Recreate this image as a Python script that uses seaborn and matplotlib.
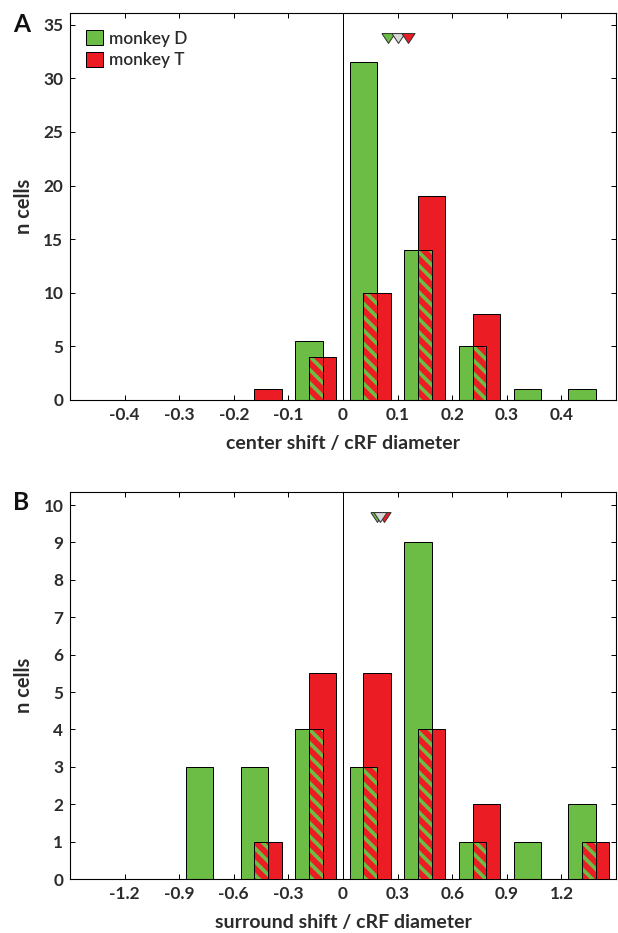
import numpy as np
import pandas as pd
import matplotlib
matplotlib.use("Agg")
import matplotlib.pyplot as plt
from matplotlib.patches import Patch
import seaborn as sns

# ---------------- data ----------------
# Panel A: center shift / cRF diameter (bin width 0.1)
a_green_bins = [-0.05, 0.05, 0.15, 0.25, 0.35, 0.45]
a_green_vals = [5.5, 31.5, 14, 5, 1, 1]
a_red_bins = [-0.15, -0.05, 0.05, 0.15, 0.25]
a_red_vals = [1, 4, 10, 19, 8]
a_marker_x = [0.082, 0.100, 0.119]          # monkey D mean, overall mean, monkey T mean
a_marker_y = [33.8, 33.8, 33.8]
a_xticks = [-0.4, -0.3, -0.2, -0.1, 0, 0.1, 0.2, 0.3, 0.4]
a_xticklabels = ["-0.4", "-0.3", "-0.2", "-0.1", "0", "0.1", "0.2", "0.3", "0.4"]
a_yticks = [0, 5, 10, 15, 20, 25, 30, 35]

# Panel B: surround shift / cRF diameter (bin width 0.3)
b_green_bins = [-0.75, -0.45, -0.15, 0.15, 0.45, 0.75, 1.05, 1.35]
b_green_vals = [3, 3, 4, 3, 9, 1, 1, 2]
b_red_bins = [-0.45, -0.15, 0.15, 0.45, 0.75, 1.35]
b_red_vals = [1, 5.5, 5.5, 4, 2, 1]
b_marker_x = [0.186, 0.225, 0.205]          # monkey D mean, monkey T mean, overall mean
b_marker_y = [9.69, 9.69, 9.69]
b_xticks = [-1.2, -0.9, -0.6, -0.3, 0, 0.3, 0.6, 0.9, 1.2]
b_xticklabels = ["-1.2", "-0.9", "-0.6", "-0.3", "0", "0.3", "0.6", "0.9", "1.2"]
b_yticks = list(range(0, 11))

legend_labels = ["monkey D", "monkey T"]

# ---------------- style ----------------
GREEN = "#6cbd45"
RED = "#ec1c24"
GRAY = "#d8d8d8"
TXT = "#2b2b2b"
DPI = 80

sns.set_style("ticks")
plt.rcParams["font.family"] = ["Lato", "DejaVu Sans"]
plt.rcParams["hatch.linewidth"] = 5.2
plt.rcParams["axes.linewidth"] = 1.0

fig = plt.figure(figsize=(618 / DPI, 933 / DPI), dpi=DPI)
W, H = 618, 933
axA = fig.add_axes([70 / W, 1 - 400 / H, 546 / W, 387 / H])
axB = fig.add_axes([70 / W, 1 - 879 / H, 546 / W, 387 / H])

tri = [(-1, 0.75), (1, 0.75), (0, -0.75), (-1, 0.75)]


def panel(ax, bw, gbins, gvals, rbins, rvals, mx, my, mcolors, xlim, ylim,
          xticks, xticklabels, yticks, xlabel):
    off = bw / 8.0
    dg = pd.DataFrame({"x": np.array(gbins) - off, "y": gvals})
    dr = pd.DataFrame({"x": np.array(rbins) + off, "y": rvals})
    common = sorted(set(gbins) & set(rbins))
    gmap = dict(zip(gbins, gvals))
    rmap = dict(zip(rbins, rvals))
    do = pd.DataFrame({"x": common, "y": [min(gmap[c], rmap[c]) for c in common]})

    sns.barplot(data=dg, x="x", y="y", native_scale=True, width=0.5, color=GREEN,
                saturation=1, edgecolor="black", linewidth=0.9, errorbar=None, ax=ax,
                zorder=2)
    sns.barplot(data=dr, x="x", y="y", native_scale=True, width=0.5, color=RED,
                saturation=1, edgecolor="black", linewidth=0.9, errorbar=None, ax=ax,
                zorder=3)
    # overlap region: green face with red diagonal stripes
    sns.barplot(data=do, x="x", y="y", native_scale=True, width=0.25, color=GREEN,
                saturation=1, edgecolor=RED, linewidth=0, hatch="\\\\", errorbar=None,
                ax=ax, zorder=4)
    sns.barplot(data=do, x="x", y="y", native_scale=True, width=0.25, fill=False,
                edgecolor="black", linewidth=0.9, errorbar=None, ax=ax, zorder=5)

    ax.axvline(0, color="black", lw=0.9, zorder=1)

    for x, y, c, z in zip(mx, my, mcolors, [6, 7, 8]):
        sns.scatterplot(x=[x], y=[y], marker=tri, s=140, color=c, edgecolor="#333333",
                        linewidth=0.9, ax=ax, zorder=z, legend=False)

    ax.set_xlim(*xlim)
    ax.set_ylim(*ylim)
    ax.set_xticks(xticks)
    ax.set_xticklabels(xticklabels)
    ax.set_yticks(yticks)
    ax.tick_params(direction="in", length=4.5, width=0.9, top=True, right=True,
                   labelsize=15.5, colors="black", labelcolor=TXT, pad=6)
    for lab in ax.get_xticklabels() + ax.get_yticklabels():
        lab.set_fontweight("bold")
    for s in ax.spines.values():
        s.set_visible(True)
        s.set_color("black")
    ax.set_xlabel(xlabel, fontsize=17.5, fontweight="bold", color=TXT)
    ax.set_ylabel("n cells", fontsize=18, fontweight="bold", color=TXT)
    ax.xaxis.set_label_coords(0.5, -0.09)
    ax.yaxis.set_label_coords(-0.066, 0.5)
    ax.set_facecolor("white")


panel(axA, 0.1, a_green_bins, a_green_vals, a_red_bins, a_red_vals,
      a_marker_x, a_marker_y, [GREEN, GRAY, RED], (-0.5, 0.5), (0, 36.1),
      a_xticks, a_xticklabels, a_yticks, "center shift / cRF diameter")
panel(axB, 0.3, b_green_bins, b_green_vals, b_red_bins, b_red_vals,
      b_marker_x, b_marker_y, [GREEN, RED, GRAY], (-1.5, 1.5), (0, 10.35),
      b_xticks, b_xticklabels, b_yticks, "surround shift / cRF diameter")

handles = [Patch(facecolor=GREEN, edgecolor="black", linewidth=0.9),
           Patch(facecolor=RED, edgecolor="black", linewidth=0.9)]
leg = axA.legend(handles, legend_labels, loc="upper left",
                 bbox_to_anchor=((86 - 70) / 546, 1 - (30 - 13) / 387),
                 frameon=False, fontsize=15.5, handlelength=1.0, handleheight=1.0,
                 handletextpad=0.35, labelspacing=0.3, borderpad=0, borderaxespad=0,
                 labelcolor=TXT)
for t in leg.get_texts():
    t.set_fontweight("semibold")

fig.text(13 / W, 1 - 32 / H, "A", fontsize=22, fontweight="bold", color="#111111",
         va="baseline", ha="left")
fig.text(13 / W, 1 - 510 / H, "B", fontsize=22, fontweight="bold", color="#111111",
         va="baseline", ha="left")

fig.savefig("out.png", dpi=DPI, facecolor="white")
